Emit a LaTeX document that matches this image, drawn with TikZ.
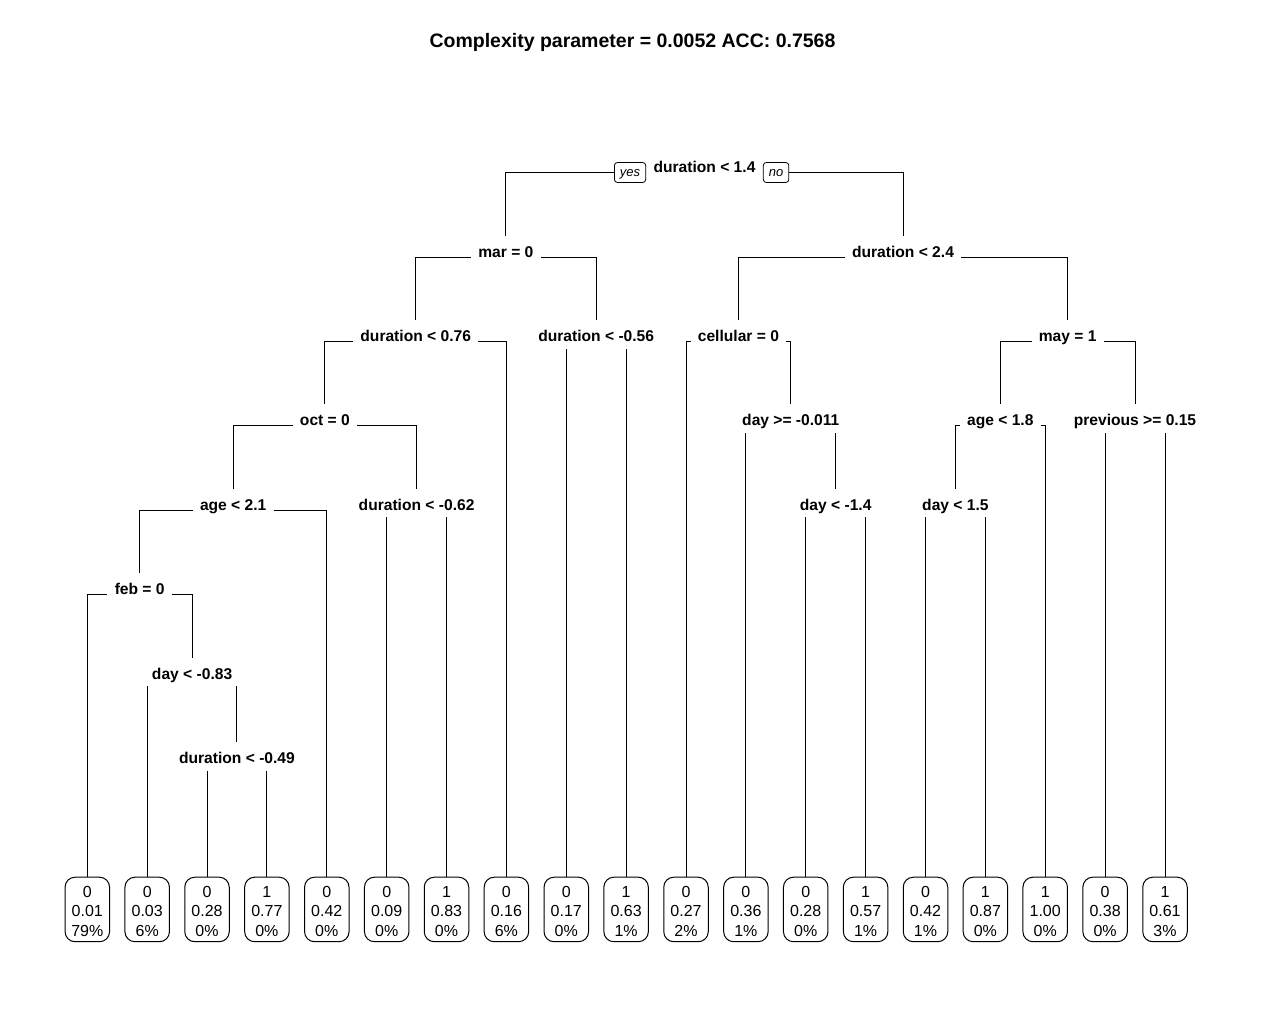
\documentclass[tikz,border=0pt]{standalone}
\usepackage{fontspec}
\setmainfont{Liberation Sans}
\usetikzlibrary{backgrounds}
\newcommand{\mysplitfont}{\bfseries\fontsize{15.6}{18}\selectfont}
\newcommand{\myleaffont}{\fontsize{16}{19.65}\selectfont}
\newcommand{\myynfont}{\itshape\fontsize{13}{14}\selectfont}
\newcommand{\mytitlefont}{\bfseries\fontsize{19.5}{22}\selectfont}
\tikzset{
  splitnode/.style={font=\mysplitfont, fill=white, anchor=base, inner xsep=7.3pt, inner ysep=7pt, text height=14pt, text depth=0pt},
  leafnode/.style={draw, line width=1pt, rounded corners=10pt, minimum width=44.5pt, minimum height=64.5pt, align=center, font=\myleaffont, anchor=north, inner sep=0pt},
  ynnode/.style={draw, line width=0.8pt, fill=white, rounded corners=3pt, font=\myynfont, inner xsep=5.5pt, inner ysep=0pt, minimum height=20pt, text height=9.5pt, text depth=2.5pt},
  conn/.style={line width=1pt}
}
\newcommand{\lf}[3]{\rule{0pt}{15pt}#1\\#2\\#3}
\begin{document}
\begin{tikzpicture}[x=1pt,y=-1pt]
\useasboundingbox (0,0) rectangle (1267,1031);
\node[font=\mytitlefont, anchor=base] (title) at (632.5,47) {Complexity parameter = 0.0052 ACC: 0.7568};
% split nodes
\node[splitnode] (root) at (704.5,172.5) {duration < 1.4};
\node[ynnode, anchor=east] (yes) at (root.base west) {yes};
\node[ynnode, anchor=west] (no) at (root.base east) {no};
\node[splitnode] (mar) at (505.9,257) {mar = 0};
\node[splitnode] (d24) at (903,257) {duration < 2.4};
\node[splitnode] (d076) at (415.7,341.5) {duration < 0.76};
\node[splitnode] (dm056) at (596.2,341.5) {duration < -0.56};
\node[splitnode] (cell) at (738.4,341.5) {cellular = 0};
\node[splitnode] (may) at (1067.7,341.5) {may = 1};
\node[splitnode] (oct) at (324.9,425.5) {oct = 0};
\node[splitnode] (daym0011) at (790.8,425.5) {day >= -0.011};
\node[splitnode] (age18) at (1000.3,425.5) {age < 1.8};
\node[splitnode] (prev) at (1135,425.5) {previous >= 0.15};
\node[splitnode] (age21) at (233.2,510) {age < 2.1};
\node[splitnode] (dm062) at (416.6,510) {duration < -0.62};
\node[splitnode] (daym14) at (835.7,510) {day < -1.4};
\node[splitnode] (day15) at (955.4,510) {day < 1.5};
\node[splitnode] (feb) at (139.7,594.5) {feb = 0};
\node[splitnode] (daym083) at (192.1,679) {day < -0.83};
\node[splitnode] (dm049) at (236.95,763.5) {duration < -0.49};
% leaves
\node[leafnode] (l0) at (87.3,876.7) {\lf{0}{0.01}{79\%}};
\node[leafnode] (l1) at (147.2,876.7) {\lf{0}{0.03}{6\%}};
\node[leafnode] (l2) at (207.0,876.7) {\lf{0}{0.28}{0\%}};
\node[leafnode] (l3) at (266.9,876.7) {\lf{1}{0.77}{0\%}};
\node[leafnode] (l4) at (326.8,876.7) {\lf{0}{0.42}{0\%}};
\node[leafnode] (l5) at (386.7,876.7) {\lf{0}{0.09}{0\%}};
\node[leafnode] (l6) at (446.5,876.7) {\lf{1}{0.83}{0\%}};
\node[leafnode] (l7) at (506.4,876.7) {\lf{0}{0.16}{6\%}};
\node[leafnode] (l8) at (566.3,876.7) {\lf{0}{0.17}{0\%}};
\node[leafnode] (l9) at (626.1,876.7) {\lf{1}{0.63}{1\%}};
\node[leafnode] (l10) at (686.0,876.7) {\lf{0}{0.27}{2\%}};
\node[leafnode] (l11) at (745.9,876.7) {\lf{0}{0.36}{1\%}};
\node[leafnode] (l12) at (805.7,876.7) {\lf{0}{0.28}{0\%}};
\node[leafnode] (l13) at (865.6,876.7) {\lf{1}{0.57}{1\%}};
\node[leafnode] (l14) at (925.5,876.7) {\lf{0}{0.42}{1\%}};
\node[leafnode] (l15) at (985.4,876.7) {\lf{1}{0.87}{0\%}};
\node[leafnode] (l16) at (1045.2,876.7) {\lf{1}{1.00}{0\%}};
\node[leafnode] (l17) at (1105.1,876.7) {\lf{0}{0.38}{0\%}};
\node[leafnode] (l18) at (1165.0,876.7) {\lf{1}{0.61}{3\%}};
% connectors
\begin{scope}[on background layer]
\fill[white] (0,0) rectangle (1267,1031);
\foreach \p/\c in {root/mar, root/d24, mar/d076, mar/dm056, d076/oct, d076/l7,
  oct/age21, oct/dm062, age21/feb, age21/l4, feb/l0, feb/daym083,
  daym083/l1, daym083/dm049, dm049/l2, dm049/l3, dm062/l5, dm062/l6,
  dm056/l8, dm056/l9, d24/cell, d24/may, cell/l10, cell/daym0011,
  daym0011/l11, daym0011/daym14, daym14/l12, daym14/l13,
  may/age18, may/prev, age18/day15, age18/l16, day15/l14, day15/l15,
  prev/l17, prev/l18}
  \draw[conn] (\p.base) -| (\c.north);
\end{scope}
\end{tikzpicture}
\end{document}
